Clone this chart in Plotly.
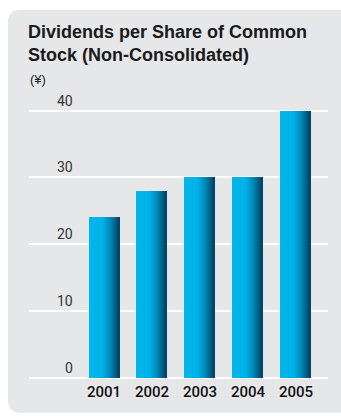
import plotly.graph_objects as go

# Dividends per share of common stock (non-consolidated), yen
years = ["2001", "2002", "2003", "2004", "2005"]
dividends = [24, 28, 30, 30, 40]
y_ticks = [0, 10, 20, 30, 40]

W, H = 341, 416
# plot area in pixels
PL, PR = 29, 328
PT, PB = 104.3, 381.3
X_RANGE = [-1.5625, 4.667]
Y_RANGE = [-0.5, 41]

BAR_W = 0.625
N_STRIPS = 30


def strip_color(t):
    # horizontal shading across a bar: bright cyan on the left, deep navy on the right
    stops = [(0.0, (0, 182, 236)), (0.45, (0, 178, 232)), (0.7, (0, 138, 185)),
             (0.88, (0, 95, 135)), (1.0, (0, 66, 98))]
    for (t0, c0), (t1, c1) in zip(stops, stops[1:]):
        if t <= t1:
            f = (t - t0) / (t1 - t0) if t1 > t0 else 0
            return "rgb(%d,%d,%d)" % tuple(round(a + (b - a) * f) for a, b in zip(c0, c1))
    return "rgb(%d,%d,%d)" % stops[-1][1]


fig = go.Figure()
sw = BAR_W / N_STRIPS
for i in range(N_STRIPS):
    fig.add_trace(go.Bar(
        x=years, y=dividends,
        width=sw * 1.08, offset=-BAR_W / 2 + i * sw,
        marker=dict(color=strip_color((i + 0.5) / N_STRIPS), line=dict(width=0)),
        hoverinfo="skip", showlegend=False,
    ))


def px_x(px):
    return (px - PL) / (PR - PL)


def px_y(py):
    return (PB - py) / (PB - PT)


# rounded grey panel behind the chart
x0, x1, y0, y1, r = 8, 345, 10, 413, 13
path = (
    f"M {px_x(x0 + r)},{px_y(y0)} L {px_x(x1)},{px_y(y0)} L {px_x(x1)},{px_y(y1)} "
    f"L {px_x(x0 + r)},{px_y(y1)} Q {px_x(x0)},{px_y(y1)} {px_x(x0)},{px_y(y1 - r)} "
    f"L {px_x(x0)},{px_y(y0 + r)} Q {px_x(x0)},{px_y(y0)} {px_x(x0 + r)},{px_y(y0)} Z"
)
fig.add_shape(type="path", path=path, xref="paper", yref="paper",
              fillcolor="#E6E7E9", line=dict(width=0), layer="below")

# value-axis labels sitting just above each gridline
for v in y_ticks:
    fig.add_annotation(
        x=-0.604, y=v, xref="x", yref="y", text=str(v), showarrow=False,
        xanchor="right", yanchor="bottom", yshift=0,
        font=dict(family="Roboto, Liberation Sans, sans-serif", size=14, color="#333333"),
    )

# unit label
fig.add_annotation(
    x=px_x(28), y=px_y(80), xref="paper", yref="paper", text="(¥)", showarrow=False,
    xanchor="left", yanchor="middle",
    font=dict(family="Liberation Sans, Arial, sans-serif", size=13, color="#222222"),
)

fig.update_layout(
    width=W, height=H,
    margin=dict(l=PL, r=W - PR, t=PT, b=H - PB, pad=0),
    paper_bgcolor="white", plot_bgcolor="rgba(0,0,0,0)",
    barmode="overlay", bargap=0,
    title=dict(
        text="Dividends per Share of Common<br>Stock (Non-Consolidated)",
        x=28 / W, xanchor="left", xref="container",
        y=1 - 38 / H, yanchor="top", yref="container",
        font=dict(family="Liberation Sans, Arial, sans-serif", size=18,
                  color="#1a1a1a", weight="bold"),
    ),
    xaxis=dict(
        type="category", range=X_RANGE, showgrid=False, zeroline=False, showline=False,
        ticks="", tickfont=dict(family="Roboto, Liberation Sans, sans-serif", size=15,
                                color="#111111", weight=500),
        fixedrange=True,
    ),
    yaxis=dict(
        range=Y_RANGE, tickvals=y_ticks, showticklabels=False, showgrid=True,
        gridcolor="white", gridwidth=1.5, zeroline=True, zerolinecolor="white", zerolinewidth=1.5,
        showline=False, fixedrange=True,
    ),
)

fig.write_html("out.html")
